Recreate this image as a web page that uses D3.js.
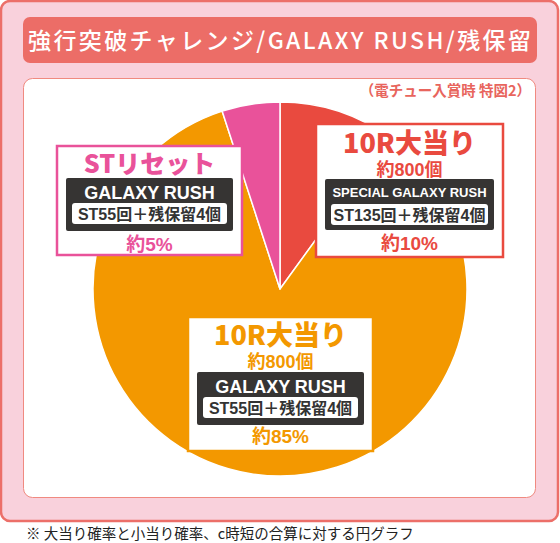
<!DOCTYPE html>
<html><head><meta charset="utf-8">
<script src="https://cdn.jsdelivr.net/npm/d3@7"></script>
<style>body{margin:0;background:#fff}svg{display:block}</style>
</head><body>
<script>
// ---- data ----
const categories = ["10R大当り(SPECIAL GALAXY RUSH)", "10R大当り(GALAXY RUSH)", "STリセット"];
const values = [10, 85, 5];
const colors = ["#e94a3f", "#f39800", "#e9529a"];
const headLines = ["10R大当り", "10R大当り", "STリセット"];
const subLines = ["約800個", "約800個", ""];
const rushNames = ["SPECIAL GALAXY RUSH", "GALAXY RUSH", "GALAXY RUSH"];
const stTexts = ["ST135回＋残保留4個", "ST55回＋残保留4個", "ST55回＋残保留4個"];
const pctLabels = ["約10%", "約85%", "約5%"];
const titleText = "強行突破チャレンジ/GALAXY RUSH/残保留";
const noteText = "（電チュー入賞時 特図2）";
const footText = "※ 大当り確率と小当り確率、c時短の合算に対する円グラフ";

// ---- layout ----
const W = 560, H = 543;
const svg = d3.select("body").append("svg").attr("width", W).attr("height", H);
const JP = "'Noto Sans CJK JP','Noto Sans',sans-serif";
const MIX = "'Liberation Sans','Noto Sans CJK JP',sans-serif";

svg.append("rect").attr("x", 1).attr("y", 1).attr("width", 557).attr("height", 520)
  .attr("rx", 9).attr("fill", "#f9d1dc").attr("stroke", "#ec6f69").attr("stroke-width", 2.5);
svg.append("rect").attr("x", 23).attr("y", 17).attr("width", 514).attr("height", 46)
  .attr("rx", 7).attr("fill", "#ec6d67");
svg.append("text").attr("x", 28).attr("y", 49).attr("fill", "#fff")
  .attr("font-family", JP).attr("font-weight", 500).attr("font-size", 23)
  .attr("textLength", 503).attr("lengthAdjust", "spacing").text(titleText);
svg.append("rect").attr("x", 23.5).attr("y", 78.5).attr("width", 512).attr("height", 419)
  .attr("rx", 9).attr("fill", "#fff").attr("stroke", "#f08a80").attr("stroke-width", 1);
svg.append("text").attr("x", 531).attr("y", 96).attr("text-anchor", "end").attr("fill", "#e8655d")
  .attr("font-family", JP).attr("font-weight", 700).attr("font-size", 14.5).text(noteText);

// ---- pie ----
const cx = 280, cy = 289, R = 187;
const pie = d3.pie().sort(null).value(d => d).startAngle(0).endAngle(2 * Math.PI);
const arc = d3.arc().innerRadius(0).outerRadius(R);
const g = svg.append("g").attr("transform", `translate(${cx},${cy})`);
g.selectAll("path").data(pie(values)).join("path")
  .attr("d", arc).attr("fill", (d, i) => colors[i])
  .attr("stroke", "#fff").attr("stroke-width", 1.5).attr("stroke-linejoin", "round");

// ---- label boxes ----
const boxes = [
  {x: 316, y: 124, w: 187, h: 133, headY: 153, headSize: 27, subY: 176, darkY: 179, darkH: 51, rushSize: 13, pctY: 250},
  {x: 188, y: 317, w: 185, h: 134, headY: 345, headSize: 27, subY: 368, darkY: 372, darkH: 53, rushSize: 18, pctY: 443},
  {x: 57, y: 146, w: 185, h: 109, headY: 173, headSize: 25, subY: null, darkY: 178, darkH: 53, rushSize: 18, pctY: 251}
];
boxes.forEach((b, i) => {
  const c = colors[i];
  const gb = svg.append("g");
  gb.append("rect").attr("x", b.x).attr("y", b.y).attr("width", b.w).attr("height", b.h)
    .attr("fill", "#fff").attr("stroke", c).attr("stroke-width", 2.5);
  const mx = b.x + b.w / 2;
  gb.append("text").attr("x", mx).attr("y", b.headY).attr("text-anchor", "middle").attr("fill", c)
    .attr("font-family", JP).attr("font-weight", 900).attr("font-size", b.headSize).text(headLines[i]);
  if (subLines[i]) gb.append("text").attr("x", mx).attr("y", b.subY).attr("text-anchor", "middle").attr("fill", c)
    .attr("font-family", MIX).attr("font-weight", 700).attr("font-size", 18).text(subLines[i]);
  const dx = b.x + 9, dw = b.w - 18;
  gb.append("rect").attr("x", dx).attr("y", b.darkY).attr("width", dw).attr("height", b.darkH)
    .attr("rx", 2).attr("fill", "#363433");
  gb.append("text").attr("x", mx).attr("y", b.darkY + (b.rushSize > 15 ? 21 : 18)).attr("text-anchor", "middle").attr("fill", "#fff")
    .attr("font-family", MIX).attr("font-weight", 700).attr("font-size", b.rushSize).text(rushNames[i]);
  gb.append("rect").attr("x", dx + 6).attr("y", b.darkY + 25).attr("width", dw - 12).attr("height", 21)
    .attr("rx", 3).attr("fill", "#fff");
  gb.append("text").attr("x", mx).attr("y", b.darkY + 41.5).attr("text-anchor", "middle").attr("fill", "#333")
    .attr("font-family", MIX).attr("font-weight", 700).attr("font-size", 16).text(stTexts[i]);
  gb.append("text").attr("x", mx).attr("y", b.pctY).attr("text-anchor", "middle").attr("fill", c)
    .attr("font-family", MIX).attr("font-weight", 700).attr("font-size", 19).text(pctLabels[i]);
});

// ---- footnote ----
svg.append("text").attr("x", 26).attr("y", 539).attr("fill", "#222")
  .attr("font-family", JP).attr("font-weight", 400).attr("font-size", 14.5).text(footText);
</script>
</body></html>
